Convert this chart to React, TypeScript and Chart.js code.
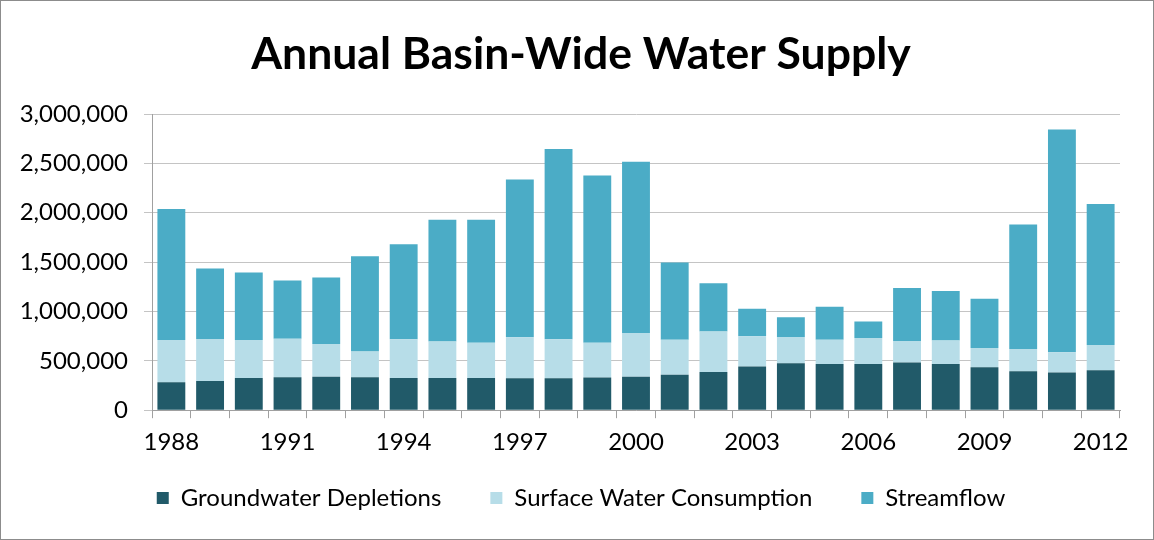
import React, { useEffect, useRef } from "react";
import { Chart, registerables } from "chart.js";

Chart.register(...registerables);

const years: string[] = [
  "1988", "1989", "1990", "1991", "1992", "1993", "1994", "1995", "1996", "1997",
  "1998", "1999", "2000", "2001", "2002", "2003", "2004", "2005", "2006", "2007",
  "2008", "2009", "2010", "2011", "2012",
];

const groundwaterDepletions: number[] = [
  282000, 296000, 326000, 333000, 340000, 333000, 326000, 326000, 326000, 323000,
  323000, 330000, 340000, 360000, 388000, 442000, 475000, 469000, 469000, 483000,
  469000, 435000, 395000, 381000, 405000,
];

const surfaceWaterConsumption: number[] = [
  429000, 425000, 385000, 391000, 330000, 262000, 392000, 371000, 358000, 415000,
  395000, 354000, 442000, 354000, 408000, 306000, 266000, 245000, 262000, 218000,
  238000, 194000, 224000, 207000, 255000,
];

const streamflow: number[] = [
  1326000, 714000, 683000, 589000, 673000, 963000, 962000, 1231000, 1246000, 1598000,
  1928000, 1693000, 1735000, 782000, 490000, 279000, 201000, 334000, 167000, 537000,
  500000, 500000, 1262000, 2255000, 1428000,
];

const seriesNames: string[] = ["Groundwater Depletions", "Surface Water Consumption", "Streamflow"];
const seriesColors: string[] = ["#215a69", "#b7dde8", "#4bacc6"];

const yTickValues: number[] = [0, 500000, 1000000, 1500000, 2000000, 2500000, 3000000];

const titleText = "Annual Basin-Wide Water Supply";
const FONT = "Lato, 'Open Sans', sans-serif";

// Reduce the gap above the legend items while keeping wide horizontal spacing
const LEGEND_SHIFT = 30;
const legendTweak = {
  id: "legendTweak",
  beforeLayout(chart: any) {
    const lg: any = chart.legend;
    if (!lg || lg._tweaked) return;
    lg._tweaked = true;
    const fit = lg.fit.bind(lg);
    lg.fit = function () {
      fit();
      this.height -= LEGEND_SHIFT;
    };
    const draw = lg.draw.bind(lg);
    lg.draw = function (...args: any[]) {
      this.top -= LEGEND_SHIFT;
      draw(...args);
      this.top += LEGEND_SHIFT;
    };
  },
};

export default function App() {
  const canvasRef = useRef<HTMLCanvasElement | null>(null);

  useEffect(() => {
    const canvas = canvasRef.current;
    if (!canvas) return;
    const seriesData = [groundwaterDepletions, surfaceWaterConsumption, streamflow];
    const chart = new Chart(canvas, {
      type: "bar",
      data: {
        labels: years,
        datasets: seriesNames.map((name, i) => ({
          label: name,
          data: seriesData[i],
          backgroundColor: seriesColors[i],
          borderWidth: 0,
          barPercentage: 0.72,
          categoryPercentage: 1,
          yAxisID: "y",
        })),
      },
      plugins: [legendTweak],
      options: {
        animation: false,
        responsive: true,
        maintainAspectRatio: false,
        layout: { padding: { left: 8, right: 0, top: 0, bottom: 19 } },
        plugins: {
          title: {
            display: true,
            text: titleText,
            color: "#000",
            font: { family: FONT, size: 44.5, weight: "bold" },
            padding: { top: 27, bottom: 32.6 },
          },
          legend: {
            position: "bottom",
            labels: {
              color: "#000",
              font: { family: FONT, size: 24 },
              boxWidth: 12,
              boxHeight: 12,
              padding: 49,
            },
          },
          tooltip: { enabled: false },
        },
        scales: {
          x: {
            stacked: true,
            grid: {
              display: true,
              drawOnChartArea: false,
              drawTicks: true,
              tickLength: 8,
              color: "#a0a0a0",
              offset: true,
            },
            border: { display: true, color: "#a0a0a0", width: 1 },
            ticks: {
              autoSkip: false,
              maxRotation: 0,
              color: "#000",
              font: { family: FONT, size: 24 },
              padding: 10,
              callback: (_v: any, i: number) => (i % 3 === 0 ? years[i] : ""),
            },
          },
          y: {
            stacked: true,
            min: 0,
            max: 3000000,
            afterBuildTicks: (scale: any) => {
              scale.ticks = yTickValues.map((v) => ({ value: v }));
            },
            afterFit: (scale: any) => {
              scale.width = 143;
            },
            grid: { color: "#c4c4c4", tickLength: 8, lineWidth: 1 },
            border: { display: true, color: "#a0a0a0", width: 1 },
            ticks: {
              color: "#000",
              font: { family: FONT, size: 24 },
              padding: 16,
              callback: (v: any) => Number(v).toLocaleString("en-US"),
            },
          },
          y2: {
            position: "right",
            display: true,
            grid: { display: false },
            border: { display: false },
            ticks: { display: false },
            afterFit: (scale: any) => {
              scale.width = 33;
            },
          },
        },
      },
    });
    return () => chart.destroy();
  }, []);

  return (
    <div
      style={{
        position: "fixed",
        left: 0,
        top: 0,
        width: 1154,
        height: 540,
        boxSizing: "border-box",
        border: "1px solid #8c8c8c",
        background: "#fff",
      }}
    >
      <canvas ref={canvasRef} />
    </div>
  );
}
